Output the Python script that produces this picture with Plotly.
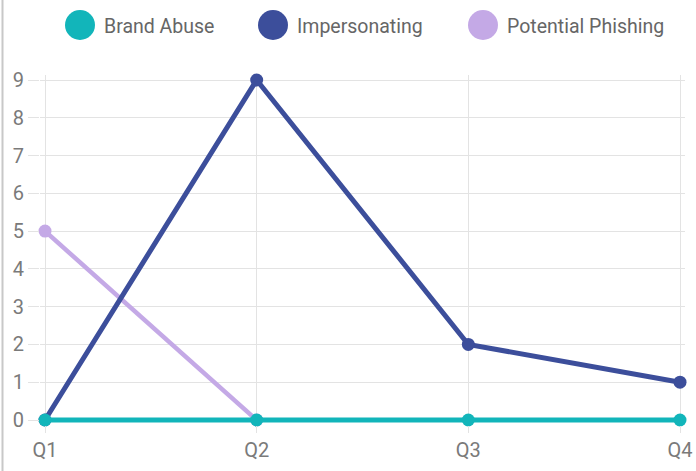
import plotly.graph_objects as go

categories = ["Q1", "Q2", "Q3", "Q4"]
series_names = ["Brand Abuse", "Impersonating", "Potential Phishing"]
brand_abuse = [0, 0, 0, 0]
impersonating = [0, 9, 2, 1]
potential_phishing = [5, 0, None, None]
y_ticks = list(range(0, 10))

colors = ["#12b5ba", "#3c4e9b", "#c4a9e6"]
widths = [5, 5, 4.5]

W, H = 696, 471
x_left, x_right = 45, 680
y_top, y_bot = 80, 420
pad = 5
ux = (x_right - x_left) / 3
uy = (y_bot - y_top) / 9
ml, mr = x_left - pad, W - x_right - pad
mt, mb = y_top - pad, H - y_bot - pad
pw, ph = W - ml - mr, H - mt - mb

fig = go.Figure()
order = [2, 1, 0]
data = [brand_abuse, impersonating, potential_phishing]
for i in order:
    fig.add_trace(go.Scatter(
        x=categories, y=data[i], name=series_names[i], mode="lines+markers",
        line=dict(color=colors[i], width=widths[i]),
        marker=dict(color=colors[i], size=13),
        cliponaxis=False, showlegend=False,
    ))

def px2x(p):
    return (p - ml) / pw
def py2y(p):
    return (H - mb - p) / ph

legend_x = [80, 273, 483]
shapes = []
annotations = []
for i, name in enumerate(series_names):
    cx = legend_x[i]
    shapes.append(dict(type="circle", xref="paper", yref="paper",
                       x0=px2x(cx - 15), x1=px2x(cx + 15),
                       y0=py2y(25 + 15), y1=py2y(25 - 15),
                       fillcolor=colors[i], line=dict(width=0)))
    annotations.append(dict(xref="paper", yref="paper", x=px2x(cx + 22), y=py2y(26),
                            xanchor="left", yanchor="middle", showarrow=False,
                            text=name, font=dict(family="Roboto", size=19.5, color="#666666")))

shapes.append(dict(type="line", xref="paper", yref="paper",
                   x0=px2x(2.5), x1=px2x(2.5), y0=py2y(0), y1=py2y(H),
                   line=dict(color="#c8c8c8", width=2)))

fig.update_layout(
    width=W, height=H,
    margin=dict(l=ml, r=mr, t=mt, b=mb, autoexpand=False),
    plot_bgcolor="white", paper_bgcolor="white",
    shapes=shapes, annotations=annotations,
    font=dict(family="Roboto", color="#777777"),
)
fig.update_xaxes(
    type="category", range=[-pad / ux, 3 + pad / ux], automargin=False,
    showgrid=True, gridcolor="#e3e3e3", gridwidth=1,
    ticks="outside", ticklen=12 - pad, tickcolor="#e3e3e3", showline=False, zeroline=False,
    tickfont=dict(size=20, color="#7a7a7a"),
)
fig.update_yaxes(
    range=[-pad / uy, 9 + pad / uy], tickvals=y_ticks, automargin=False,
    showgrid=True, gridcolor="#e3e3e3", gridwidth=1,
    ticks="outside", ticklen=16 - pad, tickcolor="#e3e3e3", showline=False, zeroline=False,
    tickfont=dict(size=20, color="#7a7a7a"),
)
fig.write_html("out.html", config={"displayModeBar": False},
               post_script="document.body.style.margin='0';document.body.style.overflow='hidden';")
